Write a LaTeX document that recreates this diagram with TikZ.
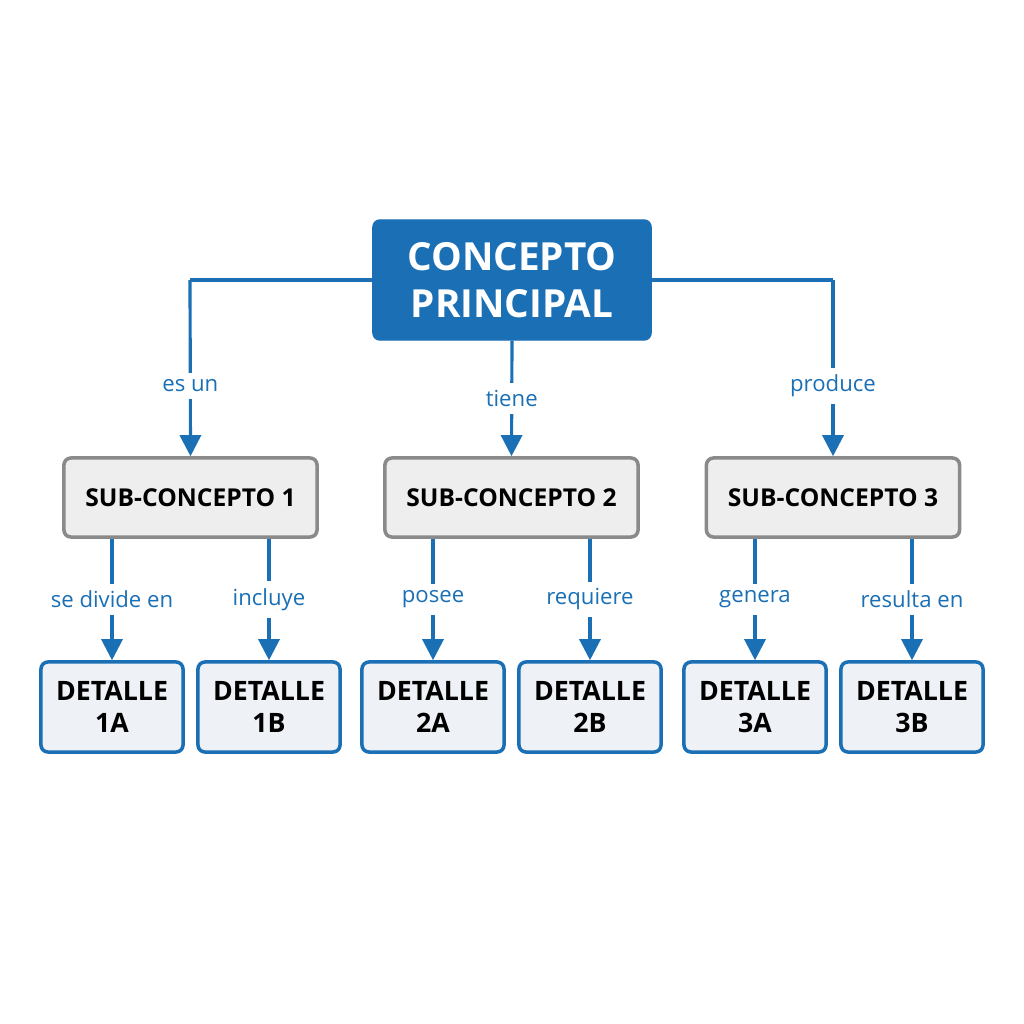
\documentclass[tikz,border=0pt]{standalone}
\usepackage{fontspec}
\setmainfont{Open Sans}
\usetikzlibrary{arrows.meta}
\definecolor{mblue}{HTML}{1A6FB5}
\definecolor{sgray}{HTML}{8A8A8A}
\definecolor{sfill}{HTML}{EEEEEE}
\definecolor{dfill}{HTML}{EEF1F5}
\begin{document}
\begin{tikzpicture}[x=0.01cm,y=-0.01cm,
  mainbox/.style={draw=mblue,fill=mblue,rounded corners=2pt,minimum width=278\pgfmathresult,text=white,font=\fontsize{11}{13.5}\selectfont\bfseries,align=center},
  subbox/.style={draw=sgray,fill=sfill,line width=1pt,rounded corners=2pt,minimum width=2.53cm,minimum height=0.79cm,font=\fontsize{7}{8}\selectfont\bfseries},
  detbox/.style={draw=mblue,fill=dfill,line width=1pt,rounded corners=2pt,minimum width=1.42cm,minimum height=0.90cm,font=\fontsize{7.6}{9}\selectfont\bfseries,align=center},
  lbl/.style={fill=white,text=mblue,font=\fontsize{6.3}{7}\selectfont,inner sep=2pt},
  conn/.style={draw=mblue,line width=0.9pt},
  arr/.style={conn,-{Triangle[width=6pt,length=6pt]}}]
\useasboundingbox (0,0) rectangle (1024,1024);
\node[draw=mblue,fill=mblue,rounded corners=2pt,minimum width=2.78cm,minimum height=1.2cm,text=white,font=\fontsize{11}{13.5}\selectfont\bfseries,align=center] (m) at (512,280) {CONCEPTO\\PRINCIPAL};
\node[subbox] (s1) at (190.5,497.5) {SUB-CONCEPTO 1};
\node[subbox] (s2) at (511.5,497.5) {SUB-CONCEPTO 2};
\node[subbox] (s3) at (833,497.5) {SUB-CONCEPTO 3};
\foreach \n/\x/\t in {d1a/112/1A,d1b/269/1B,d2a/433/2A,d2b/590/2B,d3a/755/3A,d3b/912/3B}
  \node[detbox] (\n) at (\x,707) {DETALLE\\\t};
\coordinate (c1) at (190,280);
\coordinate (c3) at (833,280);
\draw[conn] (m.west) -- (c1);
\draw[arr] (c1) -- (s1.north) node[lbl,pos=0.6] {es un};
\draw[conn] (m.east) -- (c3);
\draw[arr] (c3) -- (s3.north) node[lbl,pos=0.6] {produce};
\draw[arr] (m.south) -- (s2.north) node[lbl,midway] {tiene};
\foreach \s/\d/\t in {s1/d1a/se divide en,s1/d1b/incluye,s2/d2a/posee,s2/d2b/requiere,s3/d3a/genera,s3/d3b/resulta en}
  \draw[arr] (\s.south -| \d.north) -- (\d.north) node[lbl,midway] {\t};
\end{tikzpicture}
\end{document}
